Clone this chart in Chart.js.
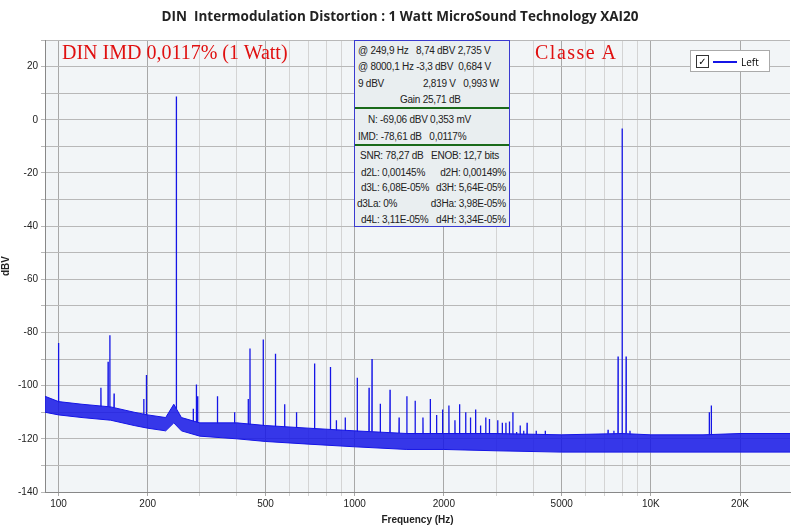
<!DOCTYPE html>
<html><head><meta charset="utf-8">
<script src="https://cdn.jsdelivr.net/npm/chart.js@4"></script>
<style>
body{margin:0;background:#fff;font-family:"Open Sans","DejaVu Sans",sans-serif}
#wrap{position:relative;width:800px;height:530px}
#title{position:absolute;top:7px;left:0;width:800px;text-align:center;font-weight:bold;font-size:13.5px;color:#222;white-space:pre}
.red{position:absolute;color:#e01010;font-family:"Liberation Serif","DejaVu Serif",serif;font-size:20px}
#info{position:absolute;left:354px;top:40px;width:156px;height:187px;background:#e9eef0;border:1px solid #3a3ad0;font-family:"Liberation Sans",Arial,sans-serif;font-size:10px;letter-spacing:-0.25px;color:#222;box-sizing:border-box}
#info div{position:absolute;white-space:pre}
#info .r{right:3px;text-align:right}
#info .sep{left:0;width:154px;height:2px;background:#1a6a1a}
#legend{position:absolute;left:690px;top:50px;width:80px;height:22px;background:#fff;border:1px solid #aaa;font-size:10px;box-sizing:border-box}
</style></head><body>
<div id="wrap">
<canvas id="c" width="800" height="530"></canvas>
<div id="title">DIN  Intermodulation Distortion : 1 Watt MicroSound Technology XAI20</div>
<div class="red" style="left:62px;top:41px">DIN IMD 0,0117% (1 Watt)</div>
<div class="red" style="left:535px;top:41px;letter-spacing:1.5px">Classe A</div>
<div id="info">
<div style="left:3px;top:4px">@ 249,9 Hz   8,74 dBV 2,735 V</div>
<div style="left:3px;top:20px">@ 8000,1 Hz -3,3 dBV  0,684 V</div>
<div style="left:3px;top:37px">9 dBV</div><div style="left:68px;top:37px">2,819 V   0,993 W</div>
<div style="left:45px;top:53px">Gain 25,71 dB</div>
<div class="sep" style="top:66px"></div>
<div style="left:13px;top:73px">N: -69,06 dBV 0,353 mV</div>
<div style="left:3px;top:90px">IMD: -78,61 dB   0,0117%</div>
<div class="sep" style="top:103px"></div>
<div style="left:5px;top:109px">SNR: 78,27 dB   ENOB: 12,7 bits</div>
<div style="left:6px;top:126px">d2L: 0,00145%</div><div class="r" style="top:126px">d2H: 0,00149%</div>
<div style="left:6px;top:141px">d3L: 6,08E-05%</div><div class="r" style="top:141px">d3H: 5,64E-05%</div>
<div style="left:2px;top:157px">d3La: 0%</div><div class="r" style="top:157px">d3Ha: 3,98E-05%</div>
<div style="left:6px;top:173px">d4L: 3,11E-05%</div><div class="r" style="top:173px">d4H: 3,34E-05%</div>
</div>
<div id="legend">
<div style="position:absolute;left:5px;top:4px;width:11px;height:11px;border:1px solid #333;font-size:10px;line-height:10px;text-align:center">✓</div>
<div style="position:absolute;left:22px;top:10px;width:24px;height:2px;background:#1515e6"></div>
<div style="position:absolute;left:50px;top:4px">Left</div>
</div>
</div>
<script>
const floorFreqs=[90,100,120,150,180,200,230,245,260,300,400,500,700,1000,1500,2000,3000,5000,8000,10000,15000,20000,29500];
const floorUpper=[-104,-106,-107,-108,-110,-111,-112,-107,-112,-114,-114,-115,-116,-117,-118,-118,-118,-118.5,-118,-118.5,-118.5,-118,-118];
const floorLower=[-110,-111,-112,-113,-115,-116,-117,-114,-117,-119,-120,-121,-122,-123,-124,-124,-124.5,-125,-125,-125,-125,-125,-125];
const peakFreqs=[100,139,147,149,154,194,198,249.9,285,292,295,344,393,437,443,491,540,580,636,732,828,867,929,1020,1118,1144,1220,1316,1412,1500,1600,1700,1800,1890,1980,2080,2180,2260,2370,2460,2560,2660,2770,2850,3040,3150,3240,3330,3420,3520,3620,3720,3820,4100,4400,7170,7500,7750,8000,8250,8500,15750,16000];
const peakLevels=[-84,-100.8,-91,-81,-103,-105,-96,8.74,-108.7,-99.6,-104,-104,-110,-105,-86,-82.6,-88,-107,-110,-91.7,-93,-113,-112,-97,-100.8,-90,-106.8,-101.5,-112,-104,-105.7,-112,-105,-111,-109,-107.5,-113,-107,-110,-112,-109,-115,-112,-112.5,-113,-114,-114,-113.5,-110,-117.4,-115,-117,-114,-117,-117,-116.6,-117,-89,-3.3,-89,-117,-110,-107.5];
const yTicks=[-140,-130,-120,-110,-100,-90,-80,-70,-60,-50,-40,-30,-20,-10,0,10,20,30];
const xLabels={100:'100',200:'200',500:'500',1000:'1000',2000:'2000',5000:'5000',10000:'10K',20000:'20K'};

function floorAt(f){for(let i=1;i<floorFreqs.length;i++){if(f<=floorFreqs[i]){const a=floorFreqs[i-1],b=floorFreqs[i];const t=(Math.log(f)-Math.log(a))/(Math.log(b)-Math.log(a));return floorUpper[i-1]+t*(floorUpper[i]-floorUpper[i-1]);}}return floorUpper[floorUpper.length-1];}
const spikes=[];
peakFreqs.forEach((f,i)=>{const fl=floorAt(f);spikes.push({x:f*0.999,y:fl},{x:f,y:peakLevels[i]},{x:f*1.001,y:fl},{x:f*1.0011,y:NaN});});
const blue='#1515e6';
const bgPlugin={id:'bg',beforeDraw(c){const a=c.chartArea,ctx=c.ctx;ctx.save();ctx.fillStyle='#f2f5f7';ctx.fillRect(a.left,a.top,a.right-a.left,a.bottom-a.top);ctx.restore();}};
new Chart(document.getElementById('c'),{type:'line',
data:{datasets:[
{data:floorFreqs.map((f,i)=>({x:f,y:floorUpper[i]})),borderColor:blue,borderWidth:1,pointRadius:0,fill:'+1',backgroundColor:'rgba(21,21,230,0.85)'},
{data:floorFreqs.map((f,i)=>({x:f,y:floorLower[i]})),borderColor:blue,borderWidth:1,pointRadius:0,fill:false},
{data:spikes,borderColor:blue,borderWidth:1.3,pointRadius:0,spanGaps:false,fill:false}
]},
options:{animation:false,responsive:false,parsing:false,
layout:{padding:{top:40,right:10,left:0,bottom:0}},
plugins:{legend:{display:false},tooltip:{enabled:false}},
scales:{
x:{type:'logarithmic',min:90,max:29500,
afterBuildTicks(s){const t=[];for(let d=100;d<=10000;d*=10)for(let m=1;m<10;m++){const v=d*m;if(v<=29500)t.push({value:v});}s.ticks=t;},
afterFit(s){s.height=38;},
ticks:{autoSkip:false,maxRotation:0,color:'#222',font:{size:10},padding:2,callback:(v)=>xLabels[v]||''},
grid:{color:(c)=>xLabels[c.tick&&c.tick.value]?'#a8a8a8':'#d4d4d4',drawTicks:true,tickLength:4},
border:{color:'#888'},
title:{display:true,text:'Frequency (Hz)',font:{size:10,weight:'bold'},color:'#222',padding:{top:0}}},
y:{min:-140,max:30,
afterBuildTicks(s){s.ticks=yTicks.map(v=>({value:v}));},
afterFit(s){s.width=45;},
ticks:{color:'#222',font:{size:10},callback:(v)=>v%20===0&&v<30?String(v):''},
grid:{color:'#b8b8b8',tickLength:4},
border:{color:'#888'},
title:{display:true,text:'dBV',font:{size:10,weight:'bold'},color:'#222',padding:0}}
}},plugins:[bgPlugin]});
</script>
</body></html>
